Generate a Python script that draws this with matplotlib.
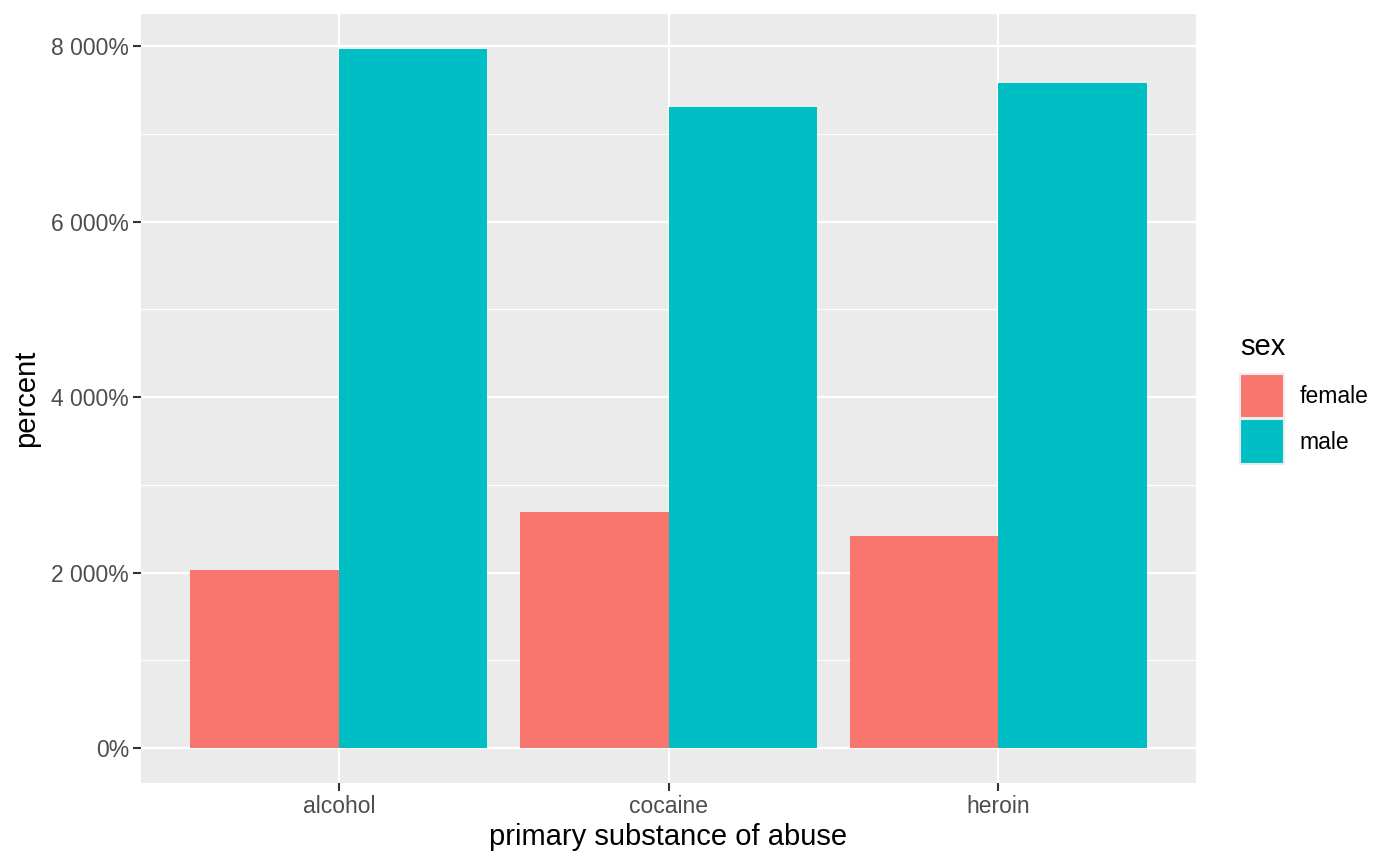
import numpy as np
import matplotlib
matplotlib.use("Agg")
import matplotlib.pyplot as plt
from matplotlib.ticker import FuncFormatter, FixedLocator
from matplotlib.patches import Patch

# datos
sustancias = ["alcohol", "cocaine", "heroin"]
sexos = ["female", "male"]
pct_female = [2030, 2695, 2420]
pct_male = [7970, 7305, 7580]
colores = {"female": "#F8766D", "male": "#00BFC4"}

plt.rcParams['font.family'] = ['Liberation Sans', 'DejaVu Sans']

fig = plt.figure(figsize=(14, 8.66), dpi=100)
ax = fig.add_axes([141/1400, 1 - 783/866, (1196-141)/1400, (783-14)/866])
ax.set_facecolor("#EBEBEB")

x = np.arange(1, len(sustancias) + 1)
ancho = 0.45
ax.bar(x - ancho/2, pct_female, width=ancho, color=colores["female"], zorder=3)
ax.bar(x + ancho/2, pct_male, width=ancho, color=colores["male"], zorder=3)

# escalas tipo ggplot (expansion 5% en y, 0.6 en x)
ymax = max(max(pct_female), max(pct_male))
ax.set_ylim(-0.05*ymax, 1.05*ymax)
ax.set_xlim(0.4, len(sustancias) + 0.6)

ax.yaxis.set_major_locator(FixedLocator([0, 2000, 4000, 6000, 8000]))
ax.yaxis.set_minor_locator(FixedLocator([1000, 3000, 5000, 7000]))
ax.yaxis.set_major_formatter(FuncFormatter(lambda v, p: f"{v:,.0f}".replace(",", " ") + "%"))
ax.set_xticks(x)
ax.set_xticklabels(sustancias)

ax.grid(which="major", color="white", linewidth=1.6, zorder=1)
ax.grid(which="minor", axis="y", color="white", linewidth=0.8, zorder=1)
ax.set_axisbelow(True)
for s in ax.spines.values():
    s.set_visible(False)

ax.tick_params(which="major", length=5.5, width=1.5, color="#333333",
               labelcolor="#4D4D4D", labelsize=16.5, pad=3)
ax.tick_params(which="minor", length=0)

ax.set_xlabel("primary substance of abuse", fontsize=21, color="black", labelpad=4)
ax.set_ylabel("percent", fontsize=21, color="black", labelpad=8)

# leyenda (titulo aparte para controlar la separacion)
fig.text(1240/1400, 1 - 347/866, "sex", fontsize=21, ha="left", va="center")
handles = [Patch(facecolor=colores[s], edgecolor="#EBEBEB", linewidth=1.5, label=s) for s in sexos]
leg = fig.legend(handles=handles, loc="upper left",
                 bbox_to_anchor=(1240/1400, 1 - 374/866), frameon=False, borderpad=0,
                 borderaxespad=0, fontsize=16.5, handlelength=1.9, handleheight=2.6,
                 handletextpad=0.7, labelspacing=0.05)

fig.savefig("out.png", dpi=100)
